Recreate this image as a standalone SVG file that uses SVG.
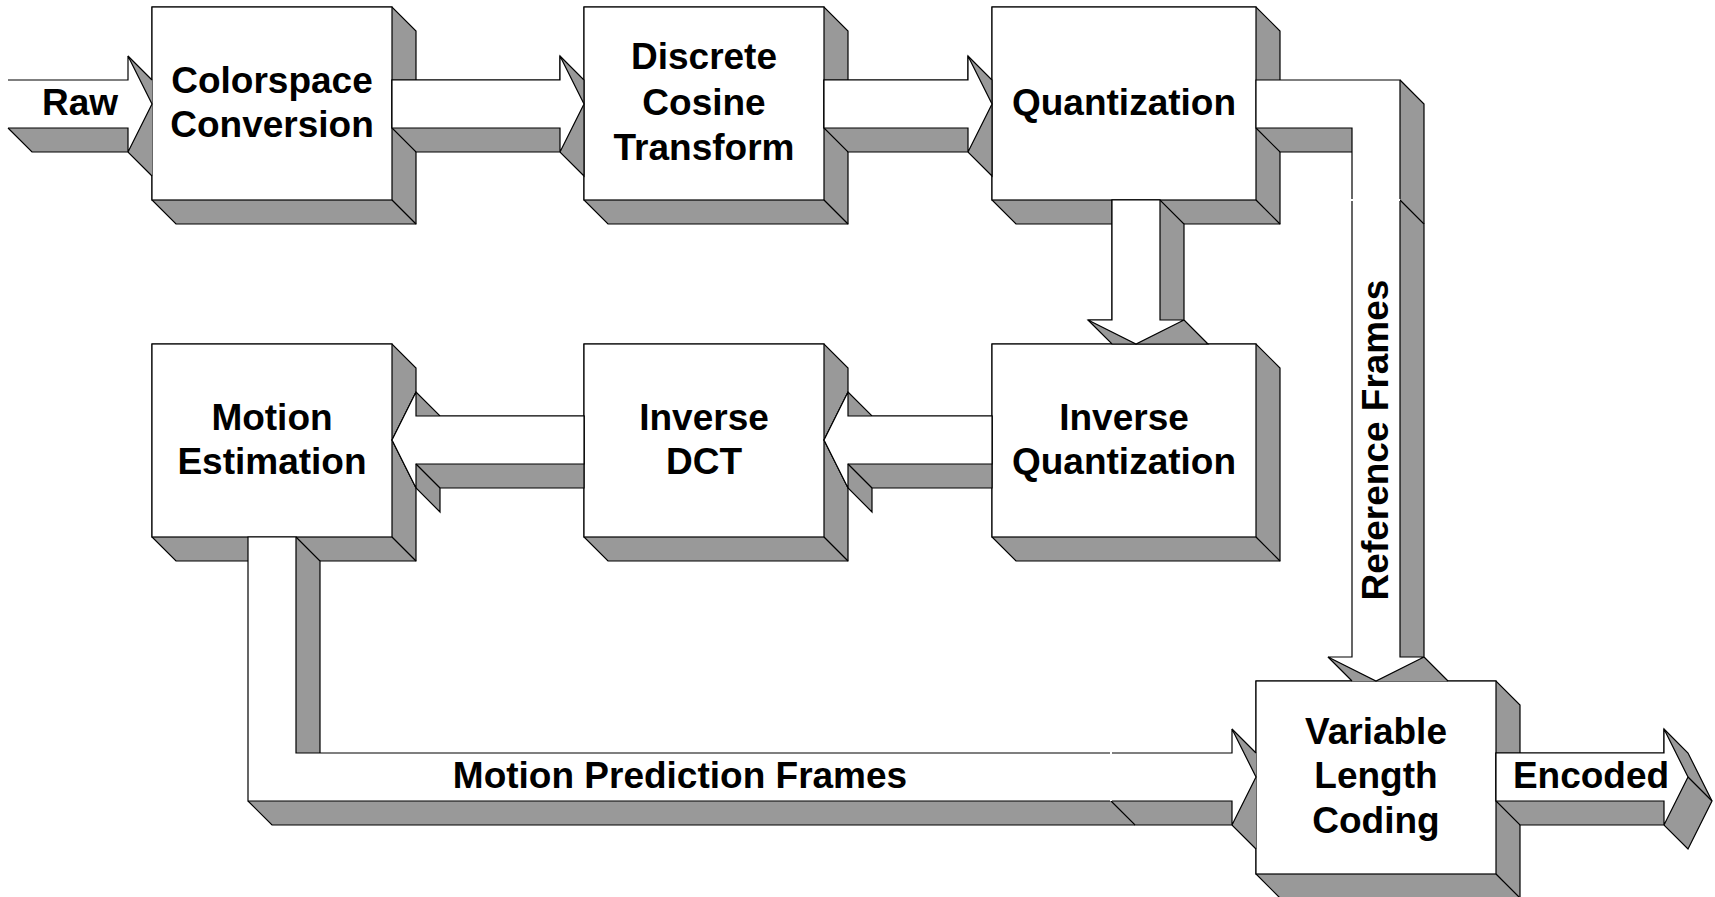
<svg xmlns="http://www.w3.org/2000/svg" width="1715" height="897" viewBox="0 0 1715 897">
  <style>
    .ext { fill: #999999; stroke: #000; stroke-width: 1.2; stroke-linejoin: miter; }
    .face { fill: #ffffff; stroke: #000; stroke-width: 1.2; }
    .gf { fill: #999999; stroke: none; }
    .wf { fill: #ffffff; stroke: none; }
    .ln { fill: none; stroke: #000; stroke-width: 1.2; }
    .lbl { font-family: "Liberation Sans", Arial, Helvetica, sans-serif; font-weight: bold; font-size: 37px; fill: #000; text-anchor: middle; }
  </style>
  <rect width="1715" height="897" fill="#ffffff"/>

  <!-- processing blocks: extruded side faces, front face, bottom-right crease, label -->
  <g id="colorspace-conversion">
    <polygon class="ext" points="152,7 392,7 416,31 416,224 176,224 152,200"/>
    <rect class="face" x="152" y="7" width="240" height="193"/>
    <path class="ln" d="M392,200 L416,224"/>
    <text class="lbl" x="272" y="93">Colorspace</text>
    <text class="lbl" x="272" y="137">Conversion</text>
  </g>
  <g id="discrete-cosine-transform">
    <polygon class="ext" points="584,7 824,7 848,31 848,224 608,224 584,200"/>
    <rect class="face" x="584" y="7" width="240" height="193"/>
    <path class="ln" d="M824,200 L848,224"/>
    <text class="lbl" x="704" y="69">Discrete</text>
    <text class="lbl" x="704" y="115">Cosine</text>
    <text class="lbl" x="704" y="160">Transform</text>
  </g>
  <g id="quantization">
    <polygon class="ext" points="992,7 1256,7 1280,31 1280,224 1016,224 992,200"/>
    <rect class="face" x="992" y="7" width="264" height="193"/>
    <path class="ln" d="M1256,200 L1280,224"/>
    <text class="lbl" x="1124" y="115">Quantization</text>
  </g>
  <g id="motion-estimation">
    <polygon class="ext" points="152,344 392,344 416,368 416,561 176,561 152,537"/>
    <rect class="face" x="152" y="344" width="240" height="193"/>
    <path class="ln" d="M392,537 L416,561"/>
    <text class="lbl" x="272" y="430">Motion</text>
    <text class="lbl" x="272" y="474">Estimation</text>
  </g>
  <g id="inverse-dct">
    <polygon class="ext" points="584,344 824,344 848,368 848,561 608,561 584,537"/>
    <rect class="face" x="584" y="344" width="240" height="193"/>
    <path class="ln" d="M824,537 L848,561"/>
    <text class="lbl" x="704" y="430">Inverse</text>
    <text class="lbl" x="704" y="474">DCT</text>
  </g>
  <g id="inverse-quantization">
    <polygon class="ext" points="992,344 1256,344 1280,368 1280,561 1016,561 992,537"/>
    <rect class="face" x="992" y="344" width="264" height="193"/>
    <path class="ln" d="M1256,537 L1280,561"/>
    <text class="lbl" x="1124" y="430">Inverse</text>
    <text class="lbl" x="1124" y="474">Quantization</text>
  </g>
  <g id="variable-length-coding">
    <polygon class="ext" points="1256,681 1496,681 1520,705 1520,898 1280,898 1256,874"/>
    <rect class="face" x="1256" y="681" width="240" height="193"/>
    <path class="ln" d="M1496,874 L1520,898"/>
    <text class="lbl" x="1376" y="744">Variable</text>
    <text class="lbl" x="1376" y="788">Length</text>
    <text class="lbl" x="1376" y="833">Coding</text>
  </g>

  <!-- block arrows between the stages -->
  <g id="connectors">
    <!-- Raw input -->
    <g id="arrow-raw">
      <path class="gf" d="M8,80 H128 V56 L152,80 V176 L128,152 H32 L8,128 Z"/>
      <path class="ln" d="M8,128 L32,152 H128 L152,176 M128,56 L152,80"/>
      <path class="wf" d="M8,80 H128 V56 L152,104 L128,152 V128 H8 Z"/>
      <path class="ln" d="M8,80 H128 V56 L152,104 L128,152 V128 H8"/>
      <text class="lbl" x="80" y="115">Raw</text>
    </g>
    <!-- Colorspace -> DCT -->
    <g id="arrow-cs-dct">
      <path class="ext" d="M392,80 H560 V56 L584,80 V176 L560,152 H416 L392,128 Z"/>
      <path class="face" d="M392,80 H560 V56 L584,104 L560,152 V128 H392 Z"/>
    </g>
    <!-- DCT -> Quantization -->
    <g id="arrow-dct-q">
      <path class="ext" d="M824,80 H968 V56 L992,80 V176 L968,152 H848 L824,128 Z"/>
      <path class="face" d="M824,80 H968 V56 L992,104 L968,152 V128 H824 Z"/>
    </g>
    <!-- Quantization -> Inverse Quantization -->
    <g id="arrow-q-iq">
      <path class="ext" d="M1112,200 H1160 L1184,224 V320 L1208,344 H1112 L1088,320 H1112 Z"/>
      <path class="face" d="M1112,200 H1160 V320 H1184 L1136,344 L1088,320 H1112 Z"/>
    </g>
    <!-- Inverse Quantization -> Inverse DCT -->
    <g id="arrow-iq-idct">
      <path class="ext" d="M992,416 H872 L848,392 L824,440 L848,488 L872,512 V488 H992 Z"/>
      <path class="face" d="M992,416 H848 V392 L824,440 L848,488 V464 H992 Z"/>
      <path class="ln" d="M848,464 L872,488"/>
    </g>
    <!-- Inverse DCT -> Motion Estimation -->
    <g id="arrow-idct-me">
      <path class="ext" d="M584,416 H440 L416,392 L392,440 L416,488 L440,512 V488 H584 Z"/>
      <path class="face" d="M584,416 H416 V392 L392,440 L416,488 V464 H584 Z"/>
      <path class="ln" d="M416,464 L440,488"/>
    </g>
    <!-- Quantization -> Variable Length Coding (reference frames) -->
    <g id="arrow-reference-frames">
      <path class="gf" d="M1256,80 H1400 L1424,104 V224 H1376 L1352,200 V152 H1280 L1256,128 Z"/>
      <path class="ln" d="M1400,80 L1424,104 V224 M1256,128 L1280,152 H1352"/>
      <path class="wf" d="M1256,80 H1400 V200 H1352 V128 H1256 Z"/>
      <path class="ln" d="M1352,199 V128 H1256 V80 H1400 V199"/>
      <path class="gf" d="M1352,200 H1400 L1424,224 V657 L1448,681 H1352 L1328,657 H1352 Z"/>
      <path class="ln" d="M1400,200 L1424,224 V657 L1448,681 M1352,681 L1328,657"/>
      <path class="wf" d="M1352,200 H1400 V657 H1424 L1376,681 L1328,657 H1352 Z"/>
      <path class="ln" d="M1400,201 V657 H1424 L1376,681 L1328,657 H1352 V201"/>
      <text class="lbl" transform="translate(1388,440) rotate(-90)" x="0" y="0">Reference Frames</text>
    </g>
    <!-- Motion Estimation -> Variable Length Coding (motion prediction frames) -->
    <g id="arrow-motion-prediction">
      <path class="gf" d="M248,537 H296 L320,561 V753 H1135 V825 H272 L248,801 Z"/>
      <path class="ln" d="M296,537 L320,561 V753 M248,801 L272,825 H1135"/>
      <path class="wf" d="M248,537 H296 V753 H1111 V801 H248 Z"/>
      <path class="ln" d="M1110,753 H296 V537 H248 V801 H1110"/>
      <path class="gf" d="M1111,753 H1232 V729 L1256,753 V849 L1232,825 H1135 L1111,801 Z"/>
      <path class="ln" d="M1232,729 L1256,753 M1256,849 L1232,825 H1135 L1111,801"/>
      <path class="wf" d="M1111,753 H1232 V729 L1256,777 L1232,825 V801 H1111 Z"/>
      <path class="ln" d="M1112,753 H1232 V729 L1256,777 L1232,825 V801 H1112"/>
      <text class="lbl" x="680" y="788">Motion Prediction Frames</text>
    </g>
    <!-- Encoded output -->
    <g id="arrow-encoded">
      <path class="ext" d="M1496,753 H1664 V729 L1688,753 L1712,801 L1688,849 L1664,825 H1520 L1496,801 Z"/>
      <path class="face" d="M1496,753 H1664 V729 L1688,777 L1664,825 V801 H1496 Z"/>
      <path class="ln" d="M1688,777 L1712,801"/>
      <text class="lbl" x="1591" y="788">Encoded</text>
    </g>
  </g>
</svg>
